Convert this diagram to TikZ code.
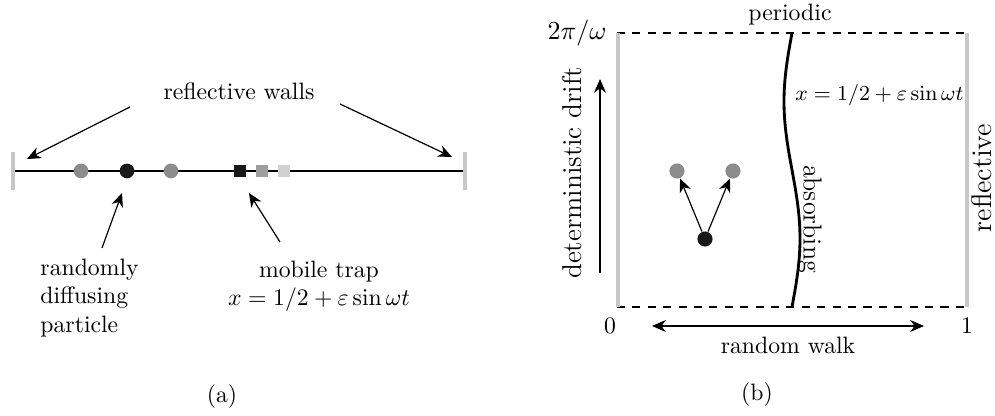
\documentclass[tikz,border=0pt]{standalone}
\usetikzlibrary{arrows.meta}
\begin{document}
\begin{tikzpicture}[x=0.422pt,y=-0.422pt,
  lbl/.style={inner sep=0pt, font=\fontsize{10}{12}\selectfont},
  arr/.style={line width=0.5pt, -{Stealth[length=5.8pt,width=5pt,inset=1.8pt]}},
  darr/.style={line width=0.5pt, {Stealth[length=5.8pt,width=5pt,inset=1.8pt]}-{Stealth[length=5.8pt,width=5pt,inset=1.8pt]}},
  wall/.style={line width=2.1pt, draw=black!22},
  dot/.style={circle, inner sep=0pt, minimum size=6.2pt},
  sq/.style={rectangle, inner sep=0pt, minimum size=5.4pt},
  dsh/.style={line width=0.5pt, dash pattern=on 3.4pt off 3.1pt}
]
\useasboundingbox (0,0) rectangle (995,416);

% ---------- panel (a) ----------
\coordinate (wl) at (13,171);
\coordinate (wr) at (465,171);
\draw[line width=0.6pt] (wl) -- (wr);
\draw[wall] (13,152) -- (13,190);
\draw[wall] (465,152) -- (465,190);
\node[dot, fill=black!45] (g1) at (81,171) {};
\node[dot, fill=black!90] (p) at (127,171) {};
\node[dot, fill=black!45] (g2) at (171,171) {};
\node[sq, fill=black!90] (t1) at (240,171) {};
\node[sq, fill=black!38] (t2) at (262,171) {};
\node[sq, fill=black!18] (t3) at (284,171) {};

\node[lbl] (rw) at (239,91) {reflective walls};
\coordinate (rwl) at (130,107);
\coordinate (rwlt) at (27,159);
\coordinate (rwr) at (340,104);
\coordinate (rwrt) at (452,157);
\draw[arr] (rwl) -- (rwlt);
\draw[arr] (rwr) -- (rwrt);

\node[lbl, align=left, anchor=west] (rdp) at (40,298) {randomly\\diffusing\\particle};
\coordinate (pa) at (102,248);
\coordinate (pt) at (122,193);
\draw[arr] (pa) -- (pt);

\node[lbl, align=center] (mt) at (319,286) {mobile trap\\$x=1/2+\varepsilon\sin\omega t$};
\coordinate (ma) at (280,242);
\coordinate (mtt) at (249,193);
\draw[arr] (ma) -- (mtt);

\node[lbl] (capa) at (222,397) {(a)};

% ---------- panel (b) ----------
\draw[dsh] (617,33) -- (967,33);
\draw[dsh] (617,307) -- (967,307);
\draw[wall] (618,33) -- (618,307);
\draw[wall] (967,33) -- (967,307);
\draw[line width=1.2pt] plot[variable=\t, domain=33:307, samples=80, smooth] ({792+8*sin(1.31387*(307-\t))}, \t);

\node[lbl] (per) at (790,15) {periodic};
\node[lbl, font=\fontsize{11}{13}\selectfont] (top) at (577,33) {$2\pi/\omega$};
\node[lbl] (zero) at (610,326) {$0$};
\node[lbl] (one) at (967,326) {$1$};
\node[lbl, anchor=west, font=\fontsize{9}{11}\selectfont] (eq) at (795,95) {$x=1/2+\varepsilon\sin\omega t$};
\node[lbl, rotate=-90, font=\fontsize{11}{13}\selectfont] (abs) at (810,219) {absorbing};
\node[lbl, rotate=90, font=\fontsize{12}{14}\selectfont] (refl) at (982,178) {reflective};
\node[lbl, rotate=90, font=\fontsize{11.5}{14}\selectfont] (dd) at (572,173) {deterministic drift};
\coordinate (dda) at (600,273);
\coordinate (ddt) at (600,79);
\draw[arr] (dda) -- (ddt);

\coordinate (rwa) at (652,326);
\coordinate (rwb) at (924,326);
\draw[darr] (rwa) -- (rwb);
\node[lbl] (rwk) at (788,345) {random walk};

\node[dot, fill=black!45, minimum size=6.4pt] (bg1) at (677,171) {};
\node[dot, fill=black!45, minimum size=6.4pt] (bg2) at (733,171) {};
\node[dot, fill=black!90, minimum size=6.4pt] (bp) at (705,239) {};
\draw[arr] (bp) -- (bg1);
\draw[arr] (bp) -- (bg2);

\node[lbl] (capb) at (757,395) {(b)};
\end{tikzpicture}
\end{document}
